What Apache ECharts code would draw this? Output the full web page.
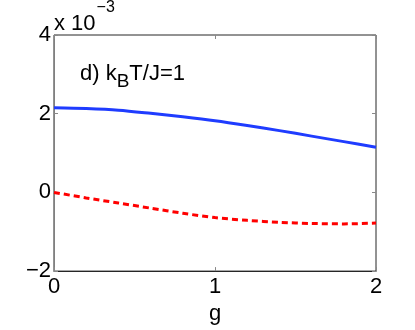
<!DOCTYPE html>
<html>
<head>
<meta charset="utf-8">
<script src="https://cdn.jsdelivr.net/npm/echarts@6/dist/echarts.min.js"></script>
<style>
  html, body { margin: 0; padding: 0; background: #fff; }
  #chart { width: 415px; height: 330px; }
</style>
</head>
<body>
<div id="chart"></div>
<script>
// g values and curves (units of 10^-3)
const gValues = [0, 0.2, 0.4, 0.6, 0.8, 1.0, 1.2, 1.4, 1.6, 1.8, 2.0]
const blueSeries = [2.15, 2.13, 2.09, 2.01, 1.92, 1.82, 1.70, 1.57, 1.43, 1.29, 1.15]
const redSeries = [0, -0.14, -0.27, -0.40, -0.53, -0.64, -0.71, -0.76, -0.79, -0.80, -0.78]
const xTicks = [0, 1, 2]
const yTicks = [-2, 0, 2, 4]

const font = 'Liberation Sans, Arial, Helvetica, sans-serif'
const toPairs = ys => gValues.map((g, i) => [g, ys[i]])

const tickStyle = { show: true, inside: true, length: 4, lineStyle: { color: '#888' } }
const xRange = { type: 'value', min: xTicks[0], max: xTicks[xTicks.length - 1], interval: 1 }
const yRange = { type: 'value', min: yTicks[0], max: yTicks[yTicks.length - 1], interval: 2 }

const chart = echarts.init(document.getElementById('chart'))
chart.setOption({
  animation: false,
  grid: {
    left: 54, right: 39, top: 35, bottom: 54,
    show: true, borderColor: '#262626', borderWidth: 1
  },
  xAxis: [
    {
      ...xRange,
      name: 'g', nameLocation: 'middle', nameGap: 28,
      nameTextStyle: { fontFamily: font, fontSize: 22, color: '#000' },
      axisLine: { show: true, onZero: false, lineStyle: { color: '#262626', width: 1 } },
      axisTick: tickStyle,
      axisLabel: { fontFamily: font, fontSize: 22, color: '#000', margin: 5 },
      splitLine: { show: false }
    },
    {
      ...xRange, position: 'top',
      axisLine: { show: false, onZero: false },
      axisTick: tickStyle,
      axisLabel: { show: false },
      splitLine: { show: false }
    }
  ],
  yAxis: [
    {
      ...yRange,
      axisLine: { show: true, onZero: false, lineStyle: { color: '#808080', width: 1 } },
      axisTick: tickStyle,
      axisLabel: {
        fontFamily: font, fontSize: 22, color: '#000', margin: 3,
        formatter: v => (v < 0 ? '\u2212' + Math.abs(v) : String(v))
      },
      splitLine: { show: false }
    },
    {
      ...yRange, position: 'right',
      axisLine: { show: false, onZero: false },
      axisTick: tickStyle,
      axisLabel: { show: false },
      splitLine: { show: false }
    }
  ],
  graphic: [
    {
      type: 'text', left: 54, top: 0,
      style: {
        text: '{m|x 10}{s|\u22123}',
        rich: {
          m: { fontFamily: font, fontSize: 22, fill: '#000', padding: [13, 0, 0, 0] },
          s: { fontFamily: font, fontSize: 16, fill: '#000', verticalAlign: 'top', padding: [0, 0, 0, 1] }
        }
      }
    },
    {
      type: 'text', left: 80, top: 63,
      style: {
        text: '{m|d) k}{s|B}{m|T/J=1}',
        rich: {
          m: { fontFamily: font, fontSize: 22, fill: '#000' },
          s: { fontFamily: font, fontSize: 19, fill: '#000', padding: [15, 0, 0, 0] }
        }
      }
    }
  ],
  series: [
    {
      type: 'line', data: toPairs(blueSeries), smooth: 0.3, symbol: 'none',
      lineStyle: { color: '#1f3cff', width: 3 }
    },
    {
      type: 'line', data: toPairs(redSeries), smooth: 0.3, symbol: 'none',
      lineStyle: { color: '#ff0000', width: 3, type: [6, 4] }
    }
  ]
})
</script>
</body>
</html>
